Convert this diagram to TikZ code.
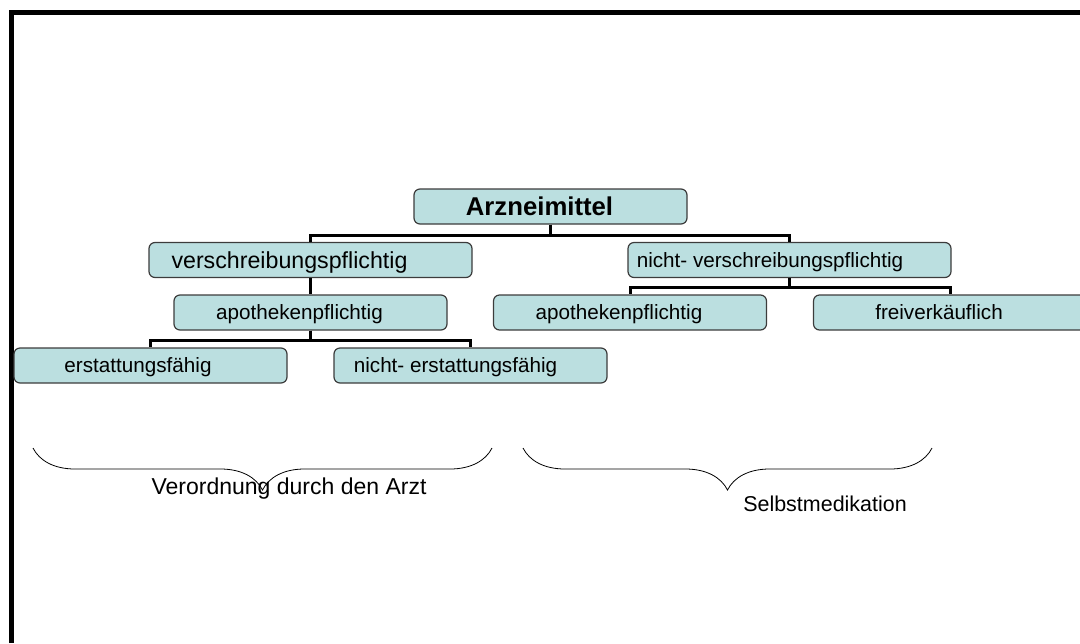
\documentclass[tikz,border=0pt]{standalone}
\usepackage{fontspec}
\setmainfont{Liberation Sans}
\usepackage{tikz}
\usetikzlibrary{decorations.pathreplacing}
\definecolor{boxfill}{RGB}{187,223,224}
\definecolor{boxline}{RGB}{60,60,60}

\begin{document}
\begin{tikzpicture}[x=0.75pt, y=-0.75pt,
  box/.style={draw=boxline, line width=0.9pt, fill=boxfill, rounded corners=4.5pt,
    minimum width=204.75pt, minimum height=26.25pt, inner sep=0pt, text depth=0pt,
    font=\fontsize{15.5}{18}\selectfont},
  wide/.style={minimum width=242.25pt},
  pad/.style={execute at end node={\hspace*{#1}}},
  link/.style={line width=2.25pt, color=black},
  curly/.style={decorate, decoration={brace, amplitude=31.5pt, mirror}, line width=0.6pt},
  lbl/.style={anchor=base, inner sep=0pt}]
\useasboundingbox (0,0) rectangle (1080,643);
\draw[line width=3.5pt] (11.7,643)--(11.7,12.5)--(1080,12.5);

\node(arz)[box, pad=16.5pt, font=\bfseries\fontsize{19.3}{22}\selectfont] at (550.5,206.5) {Arzneimittel};

\node(vp)[box, wide, pad=31.5pt, font=\fontsize{17.4}{20}\selectfont] at (310.5,260) {verschreibungspflichtig};
\node(nvp)[box, wide, pad=29.25pt] at (789.5,260) {nicht- verschreibungspflichtig};

\node(ap1)[box, pad=16.5pt] at (310.5,312.5) {apothekenpflichtig};
\node(ap2)[box, pad=16.5pt] at (630,312.5) {apothekenpflichtig};
\node(fv)[box, pad=16.5pt] at (950,312.5) {freiverkäuflich};

\node(ef)[box, pad=18.75pt] at (150.5,365.5) {erstattungsfähig};
\node(nef)[box, pad=22.5pt] at (470.5,365.5) {nicht- erstattungsfähig};

\draw[link] (arz.south)--++(0,11)-|(vp.north);
\draw[link] (arz.south)--++(0,11)-|(nvp.north);
\draw[link] (vp.south)--(ap1.north);
\draw[link] (ap1.south)--++(0,10)-|(ef.north);
\draw[link] (ap1.south)--++(0,10)-|(nef.north);
\draw[link] (nvp.south)--++(0,9)-|(ap2.north);
\draw[link] (nvp.south)--++(0,9)-|(fv.north);

\draw[curly] (33,448)--(492,448);
\draw[curly] (523,448)--(932,448);

\node(vda)[lbl, font=\fontsize{17.25}{20}\selectfont] at (289,494) {Verordnung durch den Arzt};
\node(sm)[lbl, font=\fontsize{16.1}{19}\selectfont] at (825,511) {Selbstmedikation};
\end{tikzpicture}
\end{document}
